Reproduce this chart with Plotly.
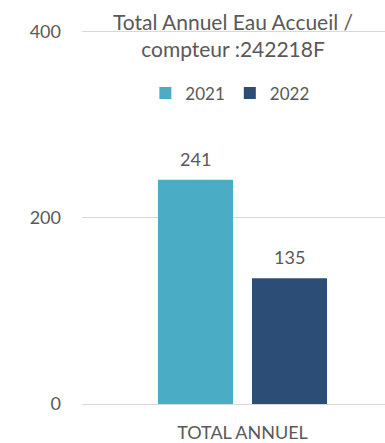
import plotly.graph_objects as go

categories = ["TOTAL ANNUEL"]
years = ["2021", "2022"]
values_2021 = [241]
values_2022 = [135]
series_values = [values_2021, values_2022]
colors = ["#4BACC6", "#2C4D75"]
y_ticks = [0, 200, 400]

text_color = "#595959"
font_family = "Lato, 'Open Sans', sans-serif"

fig = go.Figure()
for name, vals, col in zip(years, series_values, colors):
    fig.add_trace(go.Bar(
        x=categories, y=vals, name=name,
        marker=dict(color=col, line=dict(width=0)),
        hoverinfo="skip",
    ))

# value labels above each bar
shifts = [-47, 47]
for vals, dx in zip(series_values, shifts):
    for cat, v in zip(categories, vals):
        fig.add_annotation(
            x=cat, y=v, text=str(v), showarrow=False,
            xshift=dx, yshift=8, yanchor="bottom",
            font=dict(family=font_family, size=18, color=text_color),
        )

fig.update_layout(
    width=385, height=443,
    margin=dict(l=82, r=0, t=28, b=36),
    paper_bgcolor="white", plot_bgcolor="white",
    barmode="group", bargap=0.414, bargroupgap=0.202,
    title=dict(
        text="Total Annuel Eau Accueil /<br>compteur :242218F",
        x=233 / 385, xanchor="center", xref="container",
        y=1 - 30 / 443, yanchor="top", yref="container",
        font=dict(family=font_family, size=21, color=text_color),
    ),
    legend=dict(
        orientation="h", x=0.488, xanchor="center", y=0.826, yanchor="middle",
        font=dict(family=font_family, size=17, color=text_color),
        bgcolor="rgba(0,0,0,0)",
    ),
    showlegend=True,
    font=dict(family=font_family, color=text_color),
)
fig.update_xaxes(
    type="category", range=[-0.5, 0.444],
    showgrid=False, showline=False, zeroline=False,
    ticks="", ticklabelstandoff=16,
    tickfont=dict(family=font_family, size=18, color=text_color),
)
fig.update_yaxes(
    range=[0, 404], tickvals=y_ticks,
    showgrid=True, gridcolor="#D9D9D9", gridwidth=1.3,
    zeroline=True, zerolinecolor="#D9D9D9", zerolinewidth=1.3,
    showline=False, ticks="", ticklabelstandoff=20,
    tickfont=dict(family=font_family, size=18, color=text_color),
)

fig.write_html("out.html")
